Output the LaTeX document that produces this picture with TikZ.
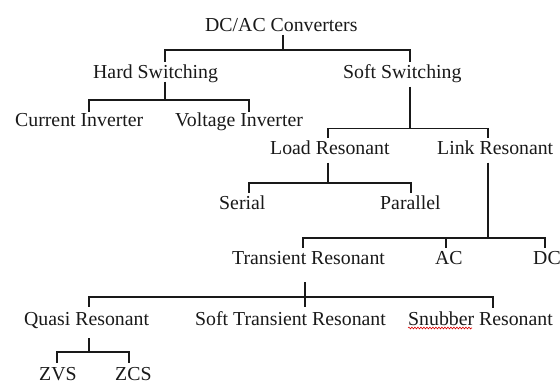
\documentclass[tikz,border=0pt]{standalone}
\usepackage{fontspec}
\setmainfont{Liberation Serif}
\usetikzlibrary{calc,decorations.pathmorphing}
\begin{document}
\begin{tikzpicture}[x=1pt,y=-1pt,
  lbl/.style={anchor=base west,inner sep=0pt,font=\fontsize{19.8pt}{22pt}\selectfont,text=black!90},
  link/.style={draw=black!90,line width=1.5pt},
  spell/.style={draw=red!85!black,line width=0.6pt,decorate,decoration={snake,amplitude=0.9pt,segment length=3pt}}]
\useasboundingbox (0,0) rectangle (560,385);
% nodes
\node[lbl] (root) at (205,31.5) {DC/AC Converters};
\node[lbl] (hard) at (93,79) {Hard Switching};
\node[lbl] (soft) at (343,79) {Soft Switching};
\node[lbl] (cur) at (15,127) {Current Inverter};
\node[lbl] (volt) at (175,127) {Voltage Inverter};
\node[lbl] (load) at (270,155) {Load Resonant};
\node[lbl] (lnk) at (437,155) {Link Resonant};
\node[lbl] (ser) at (219,209) {Serial};
\node[lbl] (par) at (380,209) {Parallel};
\node[lbl] (trans) at (232,264) {Transient Resonant};
\node[lbl] (ac) at (435,264) {AC};
\node[lbl] (dc) at (533,264) {DC};
\node[lbl] (quasi) at (24,325) {Quasi Resonant};
\node[lbl] (stt) at (195,325) {Soft Transient Resonant};
\node[lbl] (snub) at (408,325) {Snubber Resonant};
\node[lbl] (zvs) at (39,380) {ZVS};
\node[lbl] (zcs) at (115,380) {ZCS};
% connectors
\draw[link] ($(root.base west)+(78,3.5)$) -- ++(0,15) -| ($(hard.base west)+(72,-17)$);
\draw[link] ($(root.base west)+(78,3.5)$) -- ++(0,15) -| ($(soft.base west)+(67,-17)$);
\draw[link] ($(hard.base west)+(72,3)$) -- ++(0,18) -| ($(cur.base west)+(74,-15)$);
\draw[link] ($(hard.base west)+(72,3)$) -- ++(0,18) -| ($(volt.base west)+(74,-15)$);
\draw[link] ($(soft.base west)+(67,8)$) -- ++(0,41.5) -| ($(load.base west)+(58,-17)$);
\draw[link] ($(soft.base west)+(67,8)$) -- ++(0,41.5) -| ($(lnk.base west)+(51,-17)$);
\draw[link] ($(load.base west)+(58,8)$) -- ++(0,20) -| ($(ser.base west)+(30,-16)$);
\draw[link] ($(load.base west)+(58,8)$) -- ++(0,20) -| ($(par.base west)+(31,-16)$);
\draw[link] ($(lnk.base west)+(51,8)$) -- ++(0,75) -| ($(trans.base west)+(71,-16)$);
\draw[link] ($(lnk.base west)+(51,8)$) -- ++(0,75) -| ($(ac.base west)+(11,-16)$);
\draw[link] ($(lnk.base west)+(51,8)$) -- ++(0,75) -| ($(dc.base west)+(12,-16)$);
\draw[link] ($(trans.base west)+(73,18)$) -- ++(0,15) -| ($(quasi.base west)+(65,-18)$);
\draw[link] ($(trans.base west)+(73,18)$) -- ++(0,15) -| ($(stt.base west)+(110,-18)$);
\draw[link] ($(trans.base west)+(73,18)$) -- ++(0,15) -| ($(snub.base west)+(85,-17)$);
\draw[link] ($(quasi.base west)+(65,13)$) -- ++(0,14) -| ($(zvs.base west)+(18,-17)$);
\draw[link] ($(quasi.base west)+(65,13)$) -- ++(0,14) -| ($(zcs.base west)+(14,-17)$);
% spell-check squiggle
\draw[spell] ($(snub.base west)+(0,3)$) -- ($(snub.base west)+(64,3)$);
\end{tikzpicture}
\end{document}
